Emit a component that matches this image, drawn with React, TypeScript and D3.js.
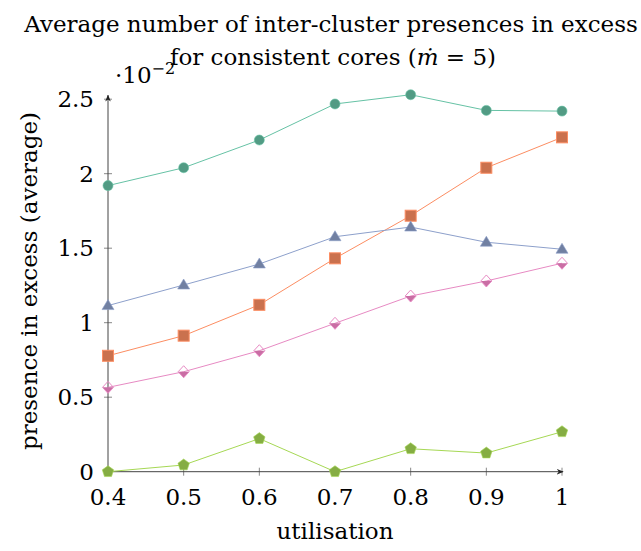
import React, { useRef, useEffect } from 'react';
import * as d3 from 'd3';

// utilisation values on the x axis
const utilisation = [0.4, 0.5, 0.6, 0.7, 0.8, 0.9, 1];

// averages, in units of 10^-2
const circleSeries = [1.92, 2.04, 2.226, 2.468, 2.53, 2.425, 2.42];
const squareSeries = [0.778, 0.913, 1.12, 1.432, 1.718, 2.04, 2.244];
const triangleSeries = [1.115, 1.253, 1.394, 1.577, 1.642, 1.54, 1.493];
const diamondSeries = [0.566, 0.671, 0.812, 0.996, 1.179, 1.28, 1.399];
const pentagonSeries = [0, 0.045, 0.222, 0, 0.154, 0.125, 0.268];

const xTicks = [0.4, 0.5, 0.6, 0.7, 0.8, 0.9, 1];
const yTicks = [0, 0.5, 1, 1.5, 2, 2.5];

const App = () => {
  const svgRef = useRef(null);

  useEffect(() => {
    const svg = d3.select(svgRef.current);
    svg.selectAll('*').remove();

    const width = 641;
    const height = 551;
    const font = '"DejaVu Serif", serif';
    const fs = 23;

    const x = d3.scaleLinear().domain([0.4, 1]).range([108, 562]);
    const y = d3.scaleLinear().domain([0, 2.5]).range([471.7, 99.2]);

    svg.attr('width', width).attr('height', height);

    // title
    svg.append('text')
      .attr('x', 331).attr('y', 32)
      .attr('text-anchor', 'middle')
      .attr('font-family', font).attr('font-size', fs)
      .text('Average number of inter-cluster presences in excess');

    const t2 = svg.append('text')
      .attr('x', 333).attr('y', 65)
      .attr('text-anchor', 'middle')
      .attr('font-family', font).attr('font-size', fs);
    t2.append('tspan').text('for consistent cores (');
    t2.append('tspan').attr('font-style', 'italic').text('ṁ');
    t2.append('tspan').text(' = 5)');

    // scale factor label
    const sf = svg.append('text')
      .attr('x', 115).attr('y', 83)
      .attr('font-family', font).attr('font-size', fs);
    sf.append('tspan').text('·10');
    sf.append('tspan').attr('font-size', 16).attr('dy', -9).text('−2');

    // axis arrow head
    const defs = svg.append('defs');
    defs.append('marker')
      .attr('id', 'arrow')
      .attr('viewBox', '0 0 10 10')
      .attr('refX', 9).attr('refY', 5)
      .attr('markerWidth', 7).attr('markerHeight', 7)
      .attr('orient', 'auto')
      .append('path')
      .attr('d', 'M0,1 L10,5 L0,9 L3,5 Z')
      .attr('fill', '#222');

    // ticks
    const g = svg.append('g');
    xTicks.forEach(v => {
      g.append('line')
        .attr('x1', x(v)).attr('x2', x(v))
        .attr('y1', y(0) - 4).attr('y2', y(0) + 4)
        .attr('stroke', '#888').attr('stroke-width', 1);
      g.append('text')
        .attr('x', x(v)).attr('y', 505)
        .attr('text-anchor', 'middle')
        .attr('font-family', font).attr('font-size', fs)
        .text(d3.format('~g')(v));
    });
    yTicks.forEach(v => {
      g.append('line')
        .attr('x1', x(0.4) - 4).attr('x2', x(0.4) + 4)
        .attr('y1', y(v)).attr('y2', y(v))
        .attr('stroke', '#888').attr('stroke-width', 1);
      g.append('text')
        .attr('x', 94).attr('y', y(v) + 8)
        .attr('text-anchor', 'end')
        .attr('font-family', font).attr('font-size', fs)
        .text(d3.format('~g')(v));
    });

    g.append('line')
      .attr('x1', x(0.4)).attr('x2', x(1) + 1)
      .attr('y1', y(0)).attr('y2', y(0))
      .attr('stroke', '#444').attr('stroke-width', 1)
      .attr('marker-end', 'url(#arrow)');
    g.append('line')
      .attr('x1', x(0.4)).attr('x2', x(0.4))
      .attr('y1', y(0)).attr('y2', y(2.5) - 4)
      .attr('stroke', '#444').attr('stroke-width', 1)
      .attr('marker-end', 'url(#arrow)');

    // axis labels
    svg.append('text')
      .attr('x', 335).attr('y', 539)
      .attr('text-anchor', 'middle')
      .attr('font-family', font).attr('font-size', fs)
      .text('utilisation');
    svg.append('text')
      .attr('transform', 'translate(37, 281) rotate(-90)')
      .attr('text-anchor', 'middle')
      .attr('font-family', font).attr('font-size', fs)
      .text('presence in excess (average)');

    const line = d3.line<number>()
      .x((d, i) => x(utilisation[i]))
      .y(d => y(d));

    const series = [
      { values: circleSeries, stroke: '#66c2a5', fill: '#529b84', shape: 'circle' },
      { values: squareSeries, stroke: '#fc8d62', fill: '#ca714e', shape: 'square' },
      { values: triangleSeries, stroke: '#8da0cb', fill: '#7180a2', shape: 'triangle' },
      { values: diamondSeries, stroke: '#e78ac3', fill: '#c96ea4', shape: 'halfdiamond' },
      { values: pentagonSeries, stroke: '#a6d854', fill: '#85ad43', shape: 'pentagon' },
    ];

    series.forEach(s => {
      g.append('path')
        .attr('d', line(s.values))
        .attr('fill', 'none')
        .attr('stroke', s.stroke)
        .attr('stroke-width', 1);

      s.values.forEach((v, i) => {
        const cx = x(utilisation[i]);
        const cy = y(v);
        const m = g.append('g').attr('transform', `translate(${cx},${cy})`);
        if (s.shape === 'circle') {
          m.append('circle').attr('r', 5)
            .attr('fill', s.fill).attr('stroke', s.stroke).attr('stroke-width', 0.6);
        } else if (s.shape === 'square') {
          m.append('rect').attr('x', -5.5).attr('y', -5.5).attr('width', 11).attr('height', 11)
            .attr('fill', s.fill).attr('stroke', s.stroke).attr('stroke-width', 1);
        } else if (s.shape === 'triangle') {
          m.append('path').attr('d', 'M0,-6 L6,4 L-6,4 Z')
            .attr('fill', s.fill).attr('stroke', s.stroke).attr('stroke-width', 0.6);
        } else if (s.shape === 'halfdiamond') {
          m.append('path').attr('d', 'M-5.5,0 L5.5,0 L0,6 Z')
            .attr('fill', s.fill);
          m.append('path').attr('d', 'M0,-6 L5.5,0 L0,6 L-5.5,0 Z')
            .attr('fill', 'none').attr('stroke', s.stroke).attr('stroke-width', 1);
        } else {
          const pts = d3.range(5).map(k => {
            const a = -Math.PI / 2 + (k * 2 * Math.PI) / 5;
            return [6 * Math.cos(a), 6 * Math.sin(a)];
          });
          m.append('path').attr('d', 'M' + pts.map(p => p.join(',')).join('L') + 'Z')
            .attr('fill', s.fill).attr('stroke', s.stroke).attr('stroke-width', 0.6);
        }
      });
    });
  }, []);

  return (
    <div style={{ position: 'absolute', left: 0, top: 0 }}>
      <svg ref={svgRef} style={{ display: 'block', background: '#fff' }}></svg>
    </div>
  );
};

export default App;
